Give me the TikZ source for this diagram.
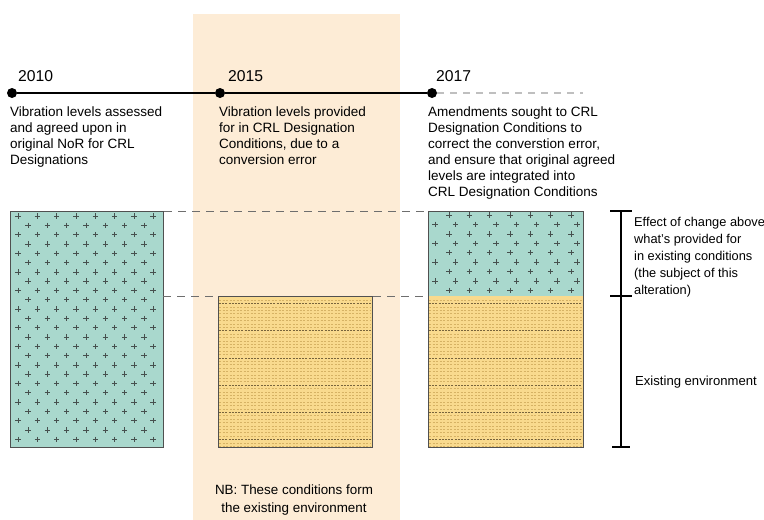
\documentclass[tikz,border=0pt]{standalone}
\usepackage{fontspec}
\setmainfont{Liberation Sans}
\definecolor{peach}{RGB}{253,236,214}
\definecolor{tealfill}{RGB}{169,216,205}
\definecolor{yelfill}{RGB}{249,218,142}
\definecolor{yeldash}{RGB}{214,178,100}
\definecolor{yeldark}{RGB}{120,100,60}
\definecolor{boxline}{RGB}{80,80,80}
\definecolor{crossc}{RGB}{70,80,78}
\definecolor{dashc}{RGB}{110,110,110}
\begin{document}
\begin{tikzpicture}[x=1pt,y=-1pt,
  body/.style={anchor=north west,inner sep=0pt,align=left,font=\fontsize{13.5}{16}\selectfont},
  side/.style={anchor=north west,inner sep=0pt,align=left,font=\fontsize{12.8}{17}\selectfont},
  year/.style={anchor=base west,inner sep=0pt,font=\fontsize{15.7}{18}\selectfont},
  dot/.style={circle,fill=black,inner sep=0pt,minimum size=10pt},
  box/.style={draw=boxline,line width=1.1pt},
  guide/.style={draw=dashc,line width=1pt,dash pattern=on 8pt off 6pt},
  cross/.style={crossc,line width=0.55pt}]
\useasboundingbox (0,0) rectangle (764,520);
% shaded column
\fill[peach] (193,14) rectangle (400,520);
% timeline
\node[dot] (d1) at (12,93) {};
\node[dot] (d2) at (220,93) {};
\node[dot] (d3) at (432,93) {};
\coordinate (tend) at (583,93);
\draw[line width=1.2pt] (d1) -- (d2) -- (d3);
\draw[gray!50,line width=1.2pt,dash pattern=on 7pt off 6pt] (d3.east) -- (tend);
\node[year] (y1) at (18,81) {2010};
\node[year] (y2) at (228,81) {2015};
\node[year] (y3) at (436,81) {2017};
\node[body] (t1) at (10,106.5) {Vibration levels assessed\\and agreed upon in\\original NoR for CRL\\Designations};
\node[body] (t2) at (219,106.5) {Vibration levels provided\\for in CRL Designation\\Conditions, due to a\\conversion error};
\node[body] (t3) at (428,106.5) {Amendments sought to CRL\\Designation Conditions to\\correct the converstion error,\\and ensure that original agreed\\levels are integrated into\\CRL Designation Conditions};
% box 1 (teal)
\fill[tealfill] (10,211) rectangle (163,447);
\foreach \r in {0,...,24}{
  \pgfmathsetmacro{\yy}{216+9.3*\r}
  \ifodd\r
    \foreach \k in {0,...,6}{\pgfmathsetmacro{\xx}{28+19.3*\k}
      \draw[cross] (\xx-2.7,\yy) -- (\xx+2.7,\yy) (\xx,\yy-2.7) -- (\xx,\yy+2.7);}
  \else
    \foreach \k in {0,...,7}{\pgfmathsetmacro{\xx}{18+19.3*\k}
      \draw[cross] (\xx-2.7,\yy) -- (\xx+2.7,\yy) (\xx,\yy-2.7) -- (\xx,\yy+2.7);}
  \fi
}
\node[box,minimum width=153pt,minimum height=236pt,inner sep=0pt,anchor=north west] (b1) at (10,211) {};
% box 2 (yellow)
\fill[yelfill] (218,296) rectangle (372,447);
\foreach \r in {0,...,43}{
  \pgfmathsetmacro{\yy}{300+3.4*\r}
  \pgfmathtruncatemacro{\m}{mod(\r,8)}
  \ifnum\m=1
    \draw[yeldark,line width=0.6pt,dash pattern=on 2pt off 1.2pt] (219,\yy) -- (371,\yy);
  \else
    \draw[yeldash,line width=0.55pt,dash pattern=on 2pt off 1.5pt] (219,\yy) -- (371,\yy);
  \fi
}
\node[box,minimum width=154pt,minimum height=151pt,inner sep=0pt,anchor=north west] (b2) at (218,296) {};
% box 3 (teal top, yellow bottom)
\fill[tealfill] (428,211) rectangle (583,296);
\foreach \r in {0,...,8}{
  \pgfmathsetmacro{\yy}{215+9.4*\r}
  \ifodd\r
    \foreach \k in {0,...,7}{\pgfmathsetmacro{\xx}{435+20.3*\k}
      \draw[cross] (\xx-2.7,\yy) -- (\xx+2.7,\yy) (\xx,\yy-2.7) -- (\xx,\yy+2.7);}
  \else
    \foreach \k in {0,...,6}{\pgfmathsetmacro{\xx}{449+20.3*\k}
      \draw[cross] (\xx-2.7,\yy) -- (\xx+2.7,\yy) (\xx,\yy-2.7) -- (\xx,\yy+2.7);}
  \fi
}
\fill[yelfill] (428,296) rectangle (583,447);
\foreach \r in {0,...,43}{
  \pgfmathsetmacro{\yy}{300+3.4*\r}
  \pgfmathtruncatemacro{\m}{mod(\r,8)}
  \ifnum\m=1
    \draw[yeldark,line width=0.6pt,dash pattern=on 2pt off 1.2pt] (429,\yy) -- (582,\yy);
  \else
    \draw[yeldash,line width=0.55pt,dash pattern=on 2pt off 1.5pt] (429,\yy) -- (582,\yy);
  \fi
}
\node[box,minimum width=155pt,minimum height=236pt,inner sep=0pt,anchor=north west] (b3) at (428,211) {};
% guide dashed lines
\draw[guide] (b1.north east) -- (b3.north west);
\draw[guide] (163,296) -- (b2.north west);
\draw[guide] (b2.north east) -- (428,296);
% bracket
\coordinate (bt) at (621,211);
\coordinate (bb) at (621,447);
\draw[line width=1.2pt] (bt) -- (bb);
\draw[line width=1.2pt] (610,211) -- (632,211) (610,296) -- (632,296) (612,447) -- (630,447);
\node[side] (s1) at (634,217) {Effect of change above\\what's provided for\\in existing conditions\\(the subject of this\\alteration)};
\node[side,anchor=west,font=\fontsize{13.1}{16}\selectfont] (s2) at (635,382) {Existing environment};
\node[anchor=north,inner sep=0pt,align=center,font=\fontsize{13.4}{18}\selectfont] (nb) at (294,485) {NB: These conditions form\\the existing environment};
\end{tikzpicture}
\end{document}
